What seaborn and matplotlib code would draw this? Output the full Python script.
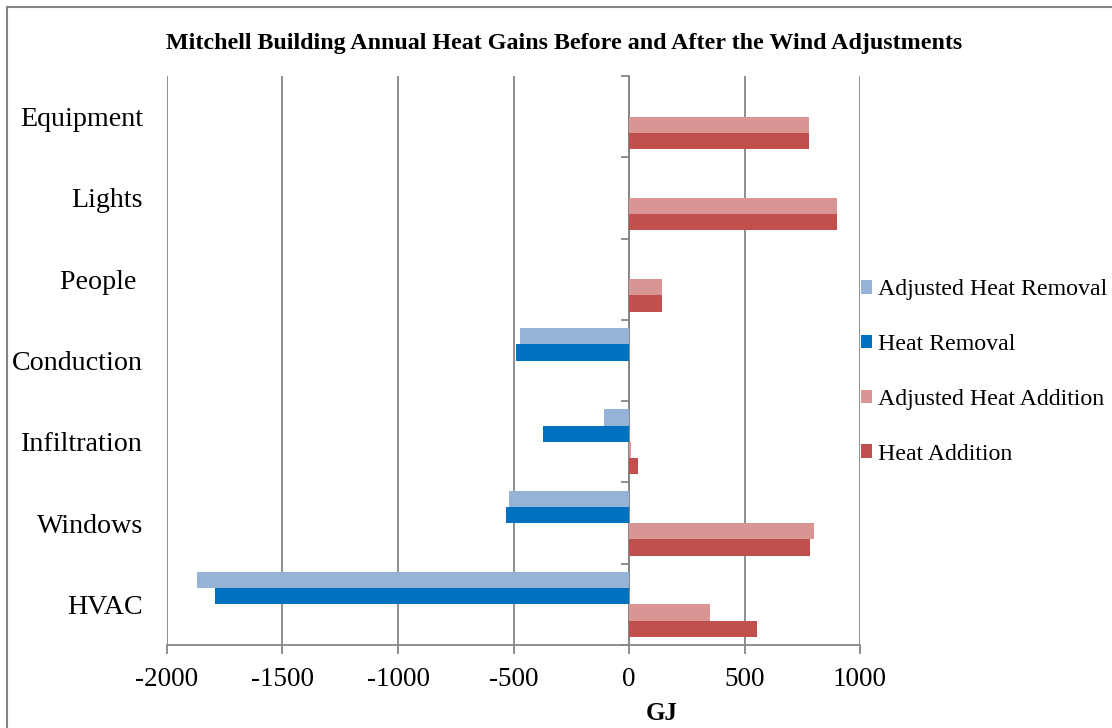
import numpy as np
import pandas as pd
import matplotlib
matplotlib.use("Agg")
import matplotlib.pyplot as plt
from matplotlib.patches import Rectangle
import seaborn as sns

# ---- data ----
categories = ["Equipment", "Lights", "People ", "Conduction", "Infiltration", "Windows", "HVAC"]
series = ["Adjusted Heat Removal", "Heat Removal", "Adjusted Heat Addition", "Heat Addition"]
adjusted_heat_removal = [0, 0, 0, -471, -110, -520, -1869]
heat_removal = [0, 0, 0, -488, -371, -534, -1794]
adjusted_heat_addition = [778, 899, 143, 0, 8, 801, 349]
heat_addition = [778, 899, 143, 0, 37, 785, 553]
x_ticks = [-2000, -1500, -1000, -500, 0, 500, 1000]
x_tick_labels = ["-2000", "-1500", "-1000", "-500", "0", "500", "1000"]
colors = ["#95B3D7", "#0070C0", "#D99594", "#C0504D"]

rows = []
for s, vals in zip(series, [adjusted_heat_removal, heat_removal, adjusted_heat_addition, heat_addition]):
    for c, v in zip(categories, vals):
        rows.append({"Category": c, "Series": s, "GJ": v})
df = pd.DataFrame(rows)

sns.set_style("white")
plt.rcParams["font.family"] = ["Liberation Serif", "DejaVu Serif"]
plt.rcParams["text.color"] = "black"
plt.rcParams["xtick.labelcolor"] = "black"
plt.rcParams["ytick.labelcolor"] = "black"
plt.rcParams["axes.labelcolor"] = "black"

GRAY = "#868686"
W, H = 1112, 728
fig = plt.figure(figsize=(W / 100, H / 100), dpi=100)
ax = fig.add_axes([167 / W, 1 - 645 / H, (860 - 167) / W, (645 - 76) / H])

sns.barplot(data=df, x="GJ", y="Category", hue="Series", order=categories,
            hue_order=series, palette=colors, orient="h", width=0.8, dodge=True,
            saturation=1, linewidth=0, errorbar=None, ax=ax)

xmin, xmax = -2000, 1000
ax.set_xlim(xmin, xmax)
ax.set_ylim(len(categories) - 0.5, -0.5)
ax.set_xticks(x_ticks)
ax.set_xticklabels(x_tick_labels)
ax.grid(axis="x", color=GRAY, linewidth=1.3)
ax.grid(axis="y", visible=False)
ax.set_axisbelow(True)

for side in ["left", "right", "top"]:
    ax.spines[side].set_visible(False)
ax.spines["bottom"].set_color(GRAY)
ax.spines["bottom"].set_linewidth(1.3)

ax.tick_params(axis="y", length=0, pad=17.3, labelsize=20.2, labelcolor="black")
ax.tick_params(axis="x", length=6.5, width=1.3, color=GRAY, labelsize=19.5, pad=9,
               direction="out", bottom=True, labelcolor="black")
ax.set_ylabel("")

ax.set_xlabel("GJ", fontsize=18, fontweight="bold", color="black")
ax.xaxis.label.set_va("center")
ax.xaxis.set_label_coords((662 - 167) / (860 - 167), (645 - 714) / (645 - 76))

# zero axis with category boundary ticks (pointing left)
zero_loc = (0 - xmin) / (xmax - xmin)
sec = ax.secondary_yaxis(zero_loc)
sec.set_yticks(np.arange(-0.5, len(categories), 1.0))
sec.set_yticklabels([])
sec.tick_params(axis="y", length=5.8, width=1.3, color=GRAY, direction="in")
for sp in sec.spines.values():
    sp.set_color(GRAY)
    sp.set_linewidth(1.3)

sns.move_legend(ax, "center left", bbox_to_anchor=(861 / W, 1 - 372 / H),
                bbox_transform=fig.transFigure, frameon=False, title=None,
                fontsize=17.2, handlelength=0.47, handleheight=0.47,
                handletextpad=0.25, labelspacing=1.41, borderpad=0, borderaxespad=0)
for t in ax.get_legend().get_texts():
    t.set_color("black")

fig.suptitle("Mitchell Building Annual Heat Gains Before and After the Wind Adjustments",
             x=564.5 / W, y=1 - 43 / H, va="center", fontsize=17.3, fontweight="bold",
             color="black")

fig.patches.append(Rectangle((7 / W, -0.2), 1.2, 1 - 7 / H + 0.2, fill=False,
                             edgecolor=GRAY, linewidth=1.5, transform=fig.transFigure))

fig.savefig("out.png", dpi=100)
